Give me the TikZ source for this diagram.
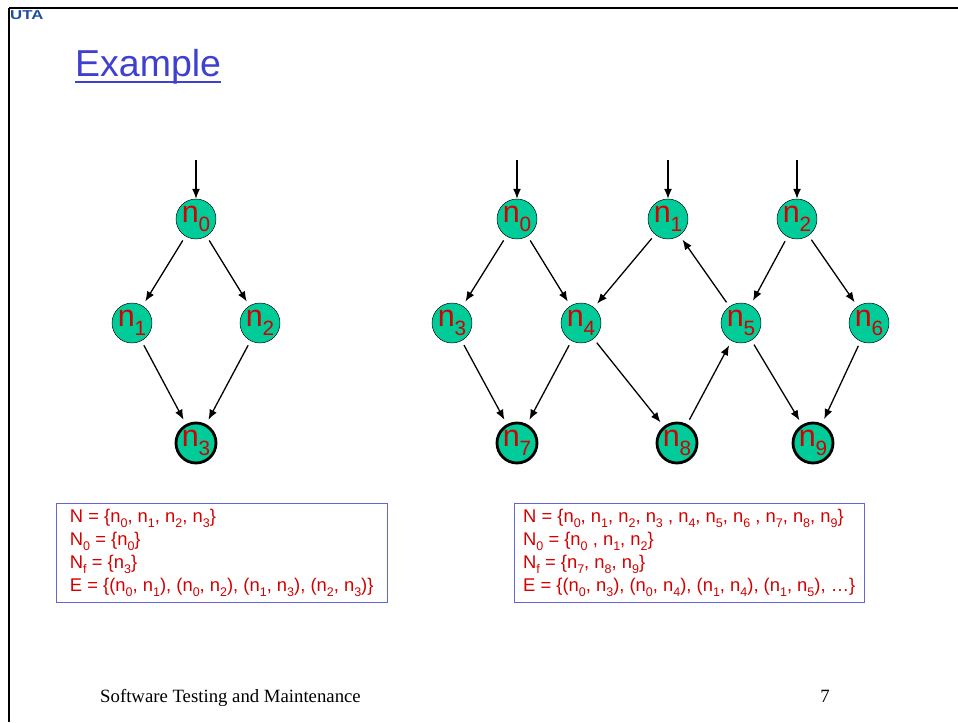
\documentclass[tikz,border=0pt]{standalone}
\usepackage{fontspec}
\setmainfont{Liberation Sans}
\newfontfamily\footfont{Liberation Serif}
\usetikzlibrary{arrows.meta}

\definecolor{nodegreen}{RGB}{0,204,153}
\definecolor{labelred}{RGB}{210,0,0}
\definecolor{titleblue}{RGB}{64,64,208}
\definecolor{boxblue}{RGB}{100,100,210}
\definecolor{logoblue}{RGB}{31,78,154}

% vertex name with a lowered index
\newcommand{\vx}[1]{n\raisebox{-0.3em}{\scalebox{0.68}{#1}}}
\newcommand{\setidx}[1]{N\raisebox{-0.3em}{\scalebox{0.68}{#1}}}

\begin{document}
\begin{tikzpicture}[x=0.3mm,y=-0.3mm,
	vertex/.style={circle,draw,thin,fill=nodegreen,minimum size=12mm,inner sep=0pt,
		text=labelred,font=\fontsize{26}{26}\selectfont},
	final/.style={vertex,line width=2.4pt},
	edge/.style={-{Latex[length=3mm,width=2.4mm]},line width=1.1pt,
		shorten <=1.5mm,shorten >=1.5mm},
	entry/.style={-{Latex[length=3mm,width=2.4mm]},line width=1.1pt},
	setbox/.style={draw=boxblue,thin,anchor=north west,align=left,text=labelred,
		font=\fontsize{15.7}{19.6}\selectfont,minimum height=29.7mm}
	]
	\useasboundingbox (0,0) rectangle (958,722);

	% slide frame and header
	\draw[line width=2pt] (9,8) -- (958,8);
	\draw[line width=1.6pt] (9,8) -- (9,722);
	\node[anchor=north west,inner sep=0pt,text=logoblue,font=\fontsize{11}{11}\selectfont\bfseries] (logo) at (10,10) {\scalebox{1.3}[1]{UTA}};
	\node[anchor=base west,inner sep=0pt,text=titleblue,font=\fontsize{32}{32}\selectfont] (title) at (75,76) {Example};
	\draw[titleblue,line width=2pt] ([yshift=-1.8mm]title.base west) -- ([yshift=-1.8mm]title.base east);

	% left graph
	\node[vertex] (a0) at (196,219) {\vx{0}};
	\node[vertex] (a1) at (132,323) {\vx{1}};
	\node[vertex] (a2) at (260,323) {\vx{2}};
	\node[final] (a3) at (196,443) {\vx{3}};
	\coordinate (sa0) at (196,160);

	\draw[entry] (sa0) -- (a0);
	\draw[edge] (a0) -- (a1);
	\draw[edge] (a0) -- (a2);
	\draw[edge] (a1) -- (a3);
	\draw[edge] (a2) -- (a3);

	% right graph
	\node[vertex] (b0) at (517,219) {\vx{0}};
	\node[vertex] (b1) at (668,219) {\vx{1}};
	\node[vertex] (b2) at (797,219) {\vx{2}};
	\node[vertex] (b3) at (452,323) {\vx{3}};
	\node[vertex] (b4) at (581,323) {\vx{4}};
	\node[vertex] (b5) at (741,323) {\vx{5}};
	\node[vertex] (b6) at (869,323) {\vx{6}};
	\node[final] (b7) at (517,443) {\vx{7}};
	\node[final] (b8) at (677,443) {\vx{8}};
	\node[final] (b9) at (813,443) {\vx{9}};
	\coordinate (sb0) at (517,160);
	\coordinate (sb1) at (668,160);
	\coordinate (sb2) at (797,160);

	\foreach \s/\t in {sb0/b0,sb1/b1,sb2/b2}
		\draw[entry] (\s) -- (\t);
	\foreach \s/\t in {b0/b3,b0/b4,b1/b4,b5/b1,b2/b5,b2/b6,b3/b7,b4/b7,b4/b8,b8/b5,b5/b9,b6/b9}
		\draw[edge] (\s) -- (\t);

	% sets of each graph
	\node[setbox,minimum width=99.3mm] (setsa) at (56,503) {%
		N = \{\vx{0}, \vx{1}, \vx{2}, \vx{3}\}\\
		\setidx{0} = \{\vx{0}\}\\
		\setidx{f} = \{\vx{3}\}\\
		E = \{(\vx{0}, \vx{1}), (\vx{0}, \vx{2}), (\vx{1}, \vx{3}), (\vx{2}, \vx{3})\}};
	\node[setbox,minimum width=105mm] (setsb) at (514,503) {%
		N = \{\vx{0}, \vx{1}, \vx{2}, \vx{3} , \vx{4}, \vx{5}, \vx{6} , \vx{7}, \vx{8}, \vx{9}\}\\
		\setidx{0} = \{\vx{0} , \vx{1}, \vx{2}\}\\
		\setidx{f} = \{\vx{7}, \vx{8}, \vx{9}\}\\
		E = \{(\vx{0}, \vx{3}), (\vx{0}, \vx{4}), (\vx{1}, \vx{4}), (\vx{1}, \vx{5}), \ldots\}};

	% footer
	\node[anchor=base west,inner sep=0pt,font=\footfont\fontsize{16}{16}\selectfont] (foot) at (100,702) {Software Testing and Maintenance};
	\node[anchor=base,inner sep=0pt,font=\footfont\fontsize{16}{16}\selectfont] (page) at (825,702) {7};
\end{tikzpicture}
\end{document}
